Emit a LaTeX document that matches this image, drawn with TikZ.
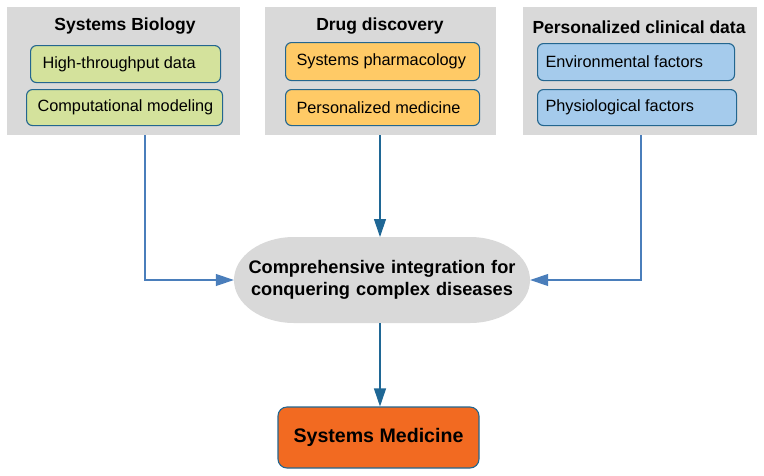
\documentclass[tikz,border=0pt]{standalone}
\usepackage{fontspec}
\setmainfont{Liberation Sans}
\usetikzlibrary{shapes.geometric,arrows.meta}
\definecolor{panelgray}{HTML}{D9D9D9}
\definecolor{greenfill}{HTML}{D4E29C}
\definecolor{orangefill}{HTML}{FFCA66}
\definecolor{bluefill}{HTML}{A5CBEC}
\definecolor{medfill}{HTML}{F26A21}
\definecolor{edgeblue}{HTML}{23668F}
\definecolor{arrowblue}{HTML}{4A7EBB}
\definecolor{arrowdark}{HTML}{1F6795}
\tikzset{
  panel/.style={fill=panelgray, draw=none, minimum width=#1, minimum height=128pt, anchor=north west, inner sep=0pt},
  itembox/.style={draw=edgeblue, line width=1.1pt, rounded corners=6pt, anchor=north west, inner sep=0pt, text width=#1},
  title/.style={font=\fontsize{17.5}{19}\selectfont\bfseries},
  itemtext/.style={font=\fontsize{16.3}{18}\selectfont},
  conn/.style={line width=1.1pt, -{Triangle[length=18pt,width=12pt,fill=#1]}, draw=#1},
}
\begin{document}
\begin{tikzpicture}[x=1pt,y=-1pt]
\useasboundingbox (0,0) rectangle (764,475);
% panels
\node[panel=233pt] (p1) at (7,7) {};
\node[panel=231pt] (p2) at (265,7) {};
\node[panel=234pt] (p3) at (523,7) {};
\node[title] (t1) at (125,26) {Systems Biology};
\node[title] (t2) at (380,26) {Drug discovery};
\node[title] (t3) at (639,27) {Personalized clinical data};
% items
\node[itembox=190pt, minimum height=37pt, fill=greenfill] (a1) at (30,45) {};
\node[itemtext, anchor=west] at ([xshift=9pt]a1.west) {High-throughput data};
\node[itembox=196pt, minimum height=36pt, fill=greenfill] (a2) at (26,89) {};
\node[itemtext, anchor=west] at ([xshift=8pt]a2.west) {Computational modeling};
\node[itembox=194pt, minimum height=38pt, fill=orangefill] (b1) at (285,42) {};
\node[itemtext, anchor=west] at ([xshift=8pt]b1.west) {Systems pharmacology};
\node[itembox=194pt, minimum height=36pt, fill=orangefill] (b2) at (285,89) {};
\node[itemtext, anchor=west] at ([xshift=8pt]b2.west) {Personalized medicine};
\node[itembox=197pt, minimum height=37pt, fill=bluefill] (c1) at (537,43) {};
\node[itemtext, anchor=west] at ([xshift=5pt]c1.west) {Environmental factors};
\node[itembox=199pt, minimum height=36pt, fill=bluefill] (c2) at (537,89) {};
\node[itemtext, anchor=west] at ([xshift=5pt]c2.west) {Physiological factors};
% integration shape (flattened ellipse)
\fill[panelgray] (294,237) -- (470,237)
   arc[start angle=-90, end angle=90, x radius=60, y radius=43]
   -- (294,323)
   arc[start angle=90, end angle=270, x radius=60, y radius=43] -- cycle;
\node[rectangle, minimum width=296pt, minimum height=86pt, inner sep=0pt,
      text width=290pt, align=center,
      font=\fontsize{18.2}{21.5}\selectfont\bfseries] (ell) at (382,280)
      {Comprehensive integration for\\conquering complex diseases};
% bottom
\node[draw=edgeblue, line width=1.1pt, fill=medfill, rounded corners=9pt, minimum width=201pt, minimum height=61pt,
      font=\fontsize{19.6}{22}\selectfont\bfseries] (med) at (378.5,437.5) {Systems Medicine};
% connectors
\coordinate (s1) at (145,135);
\coordinate (s3) at (641,135);
\coordinate (top) at (380,237);
\coordinate (bot) at (380,323);
\draw[conn=arrowblue] (s1) |- (ell.west);
\draw[conn=arrowblue] (s3) |- (ell.east);
\draw[conn=arrowdark] (p2.south -| top) -- (top);
\draw[conn=arrowdark] (bot) -- (bot |- med.north);
\end{tikzpicture}
\end{document}
